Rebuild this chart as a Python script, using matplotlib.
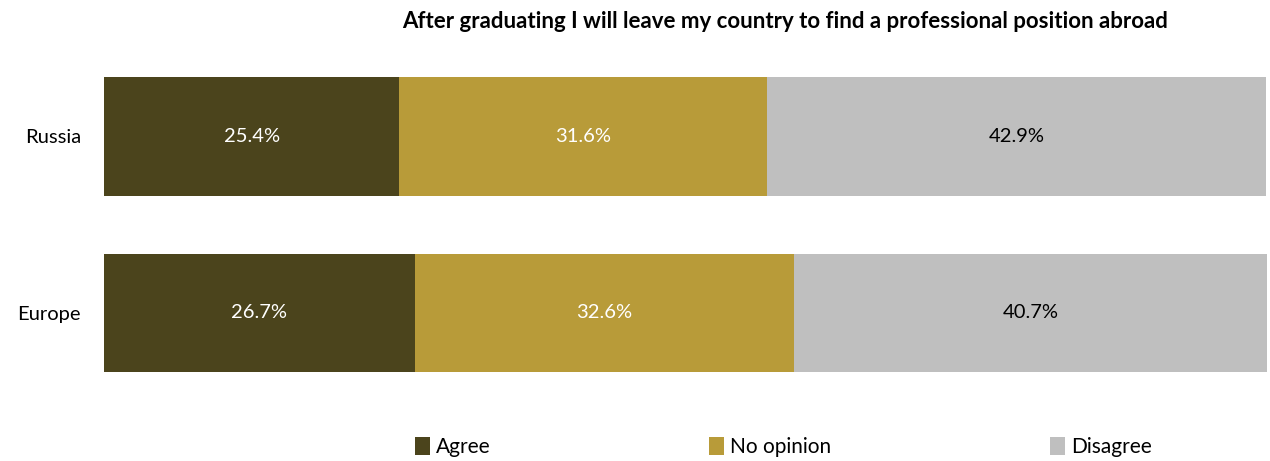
import numpy as np
import matplotlib.pyplot as plt

plt.rcParams['font.family'] = ['Lato', 'DejaVu Sans']

# Answer shares (%) per region
regions = ['Europe', 'Russia']
answers = ['Agree', 'No opinion', 'Disagree']
agree = [26.7, 25.4]
no_opinion = [32.6, 31.6]
disagree = [40.7, 42.9]

colors = ['#4b441c', '#b89b39', '#bfbfbf']
text_colors = ['white', 'white', 'black']

fig = plt.figure(figsize=(12.7, 4.61), dpi=100)
ax = fig.add_axes([104 / 1270, 61 / 461, 1163 / 1270, 350 / 461])

y = np.arange(len(regions))
left = np.zeros(len(regions))
for vals, name, col, tcol in zip([agree, no_opinion, disagree], answers, colors, text_colors):
    bars = ax.barh(y, vals, left=left, height=0.674, color=col, label=name)
    ax.bar_label(bars, labels=[f'{v:.1f}%' for v in vals], label_type='center',
                 color=tcol, fontsize=14.5)
    left += np.array(vals)

ax.set_xlim(0, 100)
ax.set_ylim(-0.493, 1.49)
ax.set_yticks(y)
ax.set_yticklabels(regions, fontsize=14.5)
ax.tick_params(axis='y', length=0, pad=16.5)
ax.set_xticks([])
for s in ax.spines.values():
    s.set_visible(False)

fig.text(785 / 1270, 1 - 21 / 461, 'After graduating I will leave my country to find a professional position abroad',
         ha='center', va='center', fontsize=16, fontweight='bold')

fig.legend(loc='center left', bbox_to_anchor=(415 / 1270, 1 - 447 / 461), ncol=3, frameon=False,
           fontsize=15, handlelength=0.7, handleheight=0.95, handletextpad=0.3,
           columnspacing=10.5, borderaxespad=0, borderpad=0)

fig.savefig('out.png', dpi=100)
